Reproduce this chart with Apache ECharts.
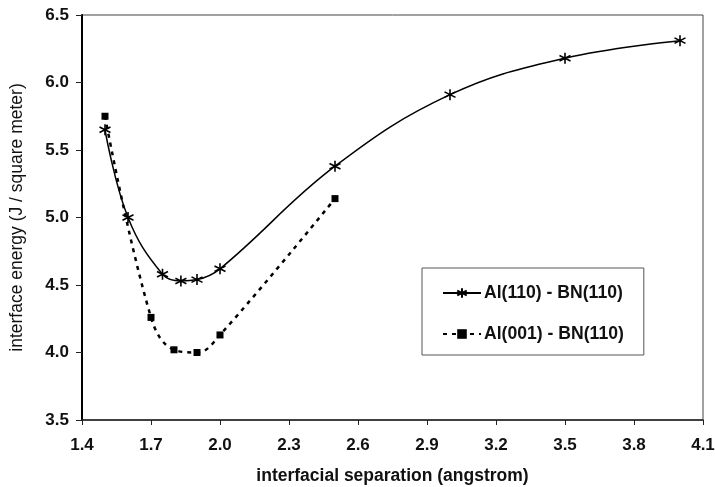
<!DOCTYPE html>
<html><head><meta charset="utf-8">
<script src="https://cdn.jsdelivr.net/npm/echarts@6/dist/echarts.min.js"></script>
<style>html,body{margin:0;padding:0;background:#fff}#c{width:715px;height:487px}</style>
</head><body><div id="c"></div>
<script>
const seriesNames = ['Al(110) - BN(110)', 'Al(001) - BN(110)'];
const al110X = [1.5, 1.6, 1.75, 1.83, 1.9, 2.0, 2.5, 3.0, 3.5, 4.0];
const al110Y = [5.65, 5.0, 4.58, 4.53, 4.54, 4.62, 5.38, 5.91, 6.18, 6.31];
const al001X = [1.5, 1.7, 1.8, 1.9, 2.0, 2.5];
const al001Y = [5.75, 4.26, 4.02, 4.0, 4.13, 5.14];
const xTicks = [1.4, 1.7, 2.0, 2.3, 2.6, 2.9, 3.2, 3.5, 3.8, 4.1];
const yTicks = [3.5, 4.0, 4.5, 5.0, 5.5, 6.0, 6.5];

const star = 'path://M0,-10L0,10M-8.66,-5L8.66,5M-8.66,5L8.66,-5';
const chart = echarts.init(document.getElementById('c'));
const font = 'Liberation Sans, Arial, sans-serif';
chart.setOption({
  animation: false,
  grid: {left: 82, right: 12, top: 15, bottom: 67, show: true, borderColor: '#444', borderWidth: 1,
    outerBoundsMode: 'none', containLabel: false},
  legend: {
    orient: 'vertical', left: 422, top: 268,
    padding: [16, 20, 12, 20], itemGap: 23, itemWidth: 38, itemHeight: 12,
    borderColor: '#555', borderWidth: 1,
    textStyle: {fontFamily: font, fontSize: 17.6, fontWeight: 'bold', color: '#111', padding: [0, 0, 0, -2]},
    data: seriesNames
  },
  xAxis: {
    type: 'value', min: xTicks[0], max: xTicks[xTicks.length - 1], interval: 0.3,
    name: 'interfacial separation (angstrom)', nameLocation: 'middle', nameGap: 47,
    nameTextStyle: {fontFamily: font, fontSize: 17.5, fontWeight: 'bold', color: '#111'},
    axisLine: {lineStyle: {color: '#222', width: 1.5}},
    axisTick: {show: true, inside: false, length: 5, lineStyle: {color: '#222'}},
    axisLabel: {fontFamily: font, fontSize: 17, fontWeight: 'bold', color: '#111', margin: 17,
      formatter: v => v.toFixed(1)},
    splitLine: {show: false}
  },
  yAxis: {
    type: 'value', min: yTicks[0], max: yTicks[yTicks.length - 1], interval: 0.5,
    name: 'interface energy (J / square meter)', nameLocation: 'middle', nameGap: 56,
    nameTextStyle: {fontFamily: font, fontSize: 17.5, color: '#111'},
    axisLine: {show: true, lineStyle: {color: '#000', width: 2}},
    axisTick: {show: true, inside: false, length: 6, lineStyle: {color: '#222'}},
    axisLabel: {fontFamily: font, fontSize: 17, fontWeight: 'bold', color: '#111', margin: 13,
      formatter: v => v.toFixed(1)},
    splitLine: {show: false}
  },
  series: [
    {
      name: seriesNames[0], type: 'line', smooth: 0.4,
      data: al110X.map((x, i) => [x, al110Y[i]]),
      symbol: star, symbolSize: 11,
      itemStyle: {color: '#000', borderColor: '#000', borderWidth: 1.6},
      lineStyle: {color: '#000', width: 1.5}, z: 3
    },
    {
      name: seriesNames[1], type: 'line', smooth: 0.4,
      data: al001X.map((x, i) => [x, al001Y[i]]),
      symbol: 'rect', symbolSize: 7,
      itemStyle: {color: '#000'},
      lineStyle: {color: '#000', width: 2.5, type: [4, 5]}, z: 2
    }
  ]
});
</script></body></html>
